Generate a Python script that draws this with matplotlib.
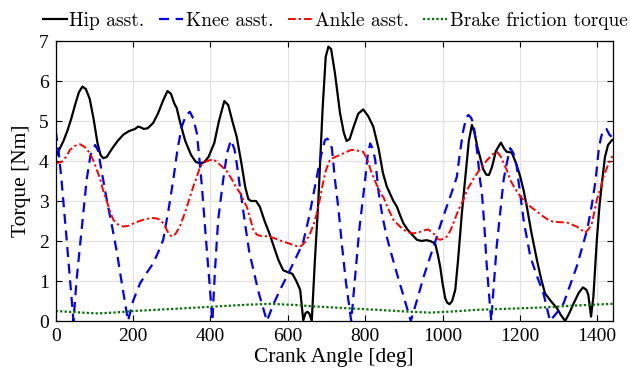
import matplotlib
matplotlib.use("Agg")
import matplotlib.pyplot as plt

plt.rcParams["font.family"] = ["Liberation Serif", "DejaVu Serif"]
plt.rcParams["mathtext.fontset"] = "stix"

# Hip assistance torque vs crank angle
hip_angle = [0, 10, 20, 30, 40, 50, 60, 69, 78, 88, 98, 108, 116, 123, 132, 145, 160, 175, 190,
             205, 213, 220, 228, 238, 252, 265, 278, 289, 298, 306, 313, 322, 335, 350, 362, 373,
             384, 395, 410, 422, 436, 446, 458, 468, 480, 490, 498, 505, 518, 528, 540, 554, 566,
             576, 588, 600, 612, 622, 632, 640, 646, 651, 656, 662, 670, 679, 690, 698, 705, 712,
             722, 735, 745, 752, 760, 770, 782, 795, 808, 821, 835, 846, 856, 866, 873, 882, 890,
             899, 910, 922, 934, 946, 958, 968, 981, 988, 994, 1000, 1007, 1012, 1018, 1025, 1033,
             1040, 1050, 1060, 1068, 1076, 1083, 1090, 1097, 1105, 1113, 1120, 1128, 1138, 1151,
             1160, 1166, 1179, 1190, 1201, 1210, 1218, 1230, 1244, 1255, 1265, 1280, 1296, 1306,
             1317, 1328, 1339, 1352, 1363, 1372, 1377, 1381, 1384, 1390, 1399, 1406, 1412, 1420,
             1428, 1438, 1440]
hip_torque = [4.10, 4.30, 4.50, 4.75, 5.05, 5.40, 5.72, 5.86, 5.80, 5.55, 5.05, 4.45, 4.15, 4.07,
              4.10, 4.30, 4.50, 4.66, 4.75, 4.80, 4.86, 4.84, 4.80, 4.82, 4.95, 5.20, 5.52, 5.75,
              5.68, 5.45, 5.32, 4.95, 4.50, 4.15, 3.98, 3.94, 3.97, 4.10, 4.45, 5.00, 5.50, 5.40,
              4.95, 4.60, 3.95, 3.35, 3.05, 3.00, 3.00, 2.85, 2.50, 2.15, 1.80, 1.52, 1.27, 1.22,
              1.18, 1.00, 0.78, 0.02, 0.20, 0.23, 0.18, 0.00, 1.50, 3.00, 5.30, 6.60, 6.86, 6.80,
              6.19, 5.20, 4.70, 4.50, 4.55, 4.85, 5.18, 5.29, 5.12, 4.86, 4.30, 3.70, 3.36, 3.15,
              3.00, 2.86, 2.65, 2.44, 2.28, 2.15, 2.03, 2.00, 2.02, 2.00, 1.94, 1.65, 1.36, 0.95,
              0.57, 0.46, 0.42, 0.50, 0.78, 1.50, 2.69, 3.70, 4.50, 4.90, 4.70, 4.35, 4.10, 3.80,
              3.66, 3.65, 3.85, 4.25, 4.46, 4.30, 4.23, 4.21, 3.95, 3.61, 3.25, 2.86, 2.20, 1.53,
              1.05, 0.69, 0.50, 0.32, 0.15, 0.00, 0.20, 0.44, 0.70, 0.84, 0.78, 0.65, 0.35, 0.11,
              0.60, 2.03, 2.90, 3.44, 4.10, 4.40, 4.52, 4.53]

# Knee assistance torque vs crank angle
knee_angle = [0, 8, 15, 26, 37, 46, 54, 63, 71, 80, 90, 102, 110, 115, 125, 132, 145, 158, 170,
              187, 200, 218, 235, 252, 265, 278, 292, 304, 315, 326, 337, 347, 356, 365, 372, 378,
              384, 390, 398, 405, 412, 420, 433, 443, 453, 462, 468, 477, 490, 500, 511, 525, 546,
              562, 580, 597, 614, 628, 640, 655, 665, 675, 685, 696, 702, 708, 714, 722, 731, 740,
              750, 764, 775, 785, 800, 806, 813, 820, 826, 835, 845, 856, 870, 882, 900, 918, 935,
              951, 968, 985, 998, 1011, 1025, 1037, 1045, 1054, 1062, 1067, 1074, 1080, 1090, 1097,
              1102, 1108, 1114, 1120, 1126, 1133, 1140, 1150, 1158, 1166, 1175, 1183, 1192, 1196,
              1210, 1227, 1245, 1261, 1278, 1295, 1313, 1330, 1347, 1360, 1374, 1386, 1396, 1404,
              1410, 1416, 1424, 1432, 1438, 1440]
knee_torque = [4.75, 4.20, 3.53, 2.30, 1.03, 0.00, 1.03, 1.90, 2.69, 3.53, 4.15, 4.40, 4.25, 3.95,
               3.40, 3.03, 2.40, 1.73, 1.00, 0.00, 0.50, 0.94, 1.20, 1.44, 1.72, 2.03, 2.80, 3.53,
               4.30, 4.86, 5.15, 5.23, 5.05, 4.69, 4.00, 3.36, 2.60, 1.86, 0.90, 0.00, 1.30, 2.53,
               3.53, 4.20, 4.52, 4.30, 3.94, 3.30, 2.40, 1.75, 1.28, 0.70, 0.00, 0.40, 0.78, 1.10,
               1.44, 1.72, 1.98, 2.60, 3.10, 3.60, 4.10, 4.52, 4.56, 4.50, 4.32, 3.53, 2.80, 1.90,
               1.00, 0.00, 1.20, 2.30, 3.53, 4.10, 4.44, 4.30, 4.03, 3.20, 2.60, 2.10, 1.60, 1.19,
               0.60, 0.00, 0.55, 1.10, 1.60, 2.10, 2.50, 2.86, 3.25, 3.60, 4.20, 4.78, 5.10, 5.15,
               5.08, 4.94, 4.20, 3.53, 3.19, 2.40, 1.44, 0.70, 0.00, 0.95, 1.86, 2.80, 3.53, 3.94,
               4.32, 4.20, 3.86, 3.53, 2.50, 1.61, 1.10, 0.69, 0.00, 0.20, 0.44, 0.90, 1.36, 1.80,
               2.28, 2.90, 3.53, 4.30, 4.60, 4.78, 4.80, 4.65, 4.60, 4.65]

# Ankle assistance torque vs crank angle
ankle_angle = [0, 16, 28, 37, 50, 63, 75, 89, 100, 115, 123, 132, 140, 149, 160, 175, 188, 201,
               214, 227, 248, 262, 270, 280, 287, 293, 300, 310, 321, 334, 347, 357, 365, 373, 385,
               398, 408, 420, 432, 442, 455, 466, 477, 486, 494, 503, 511, 520, 528, 540, 554, 570,
               589, 600, 614, 624, 632, 640, 650, 658, 668, 675, 682, 690, 698, 709, 722, 735, 750,
               765, 780, 795, 805, 812, 817, 830, 843, 847, 860, 873, 886, 899, 912, 925, 940, 950,
               963, 972, 981, 988, 994, 1003, 1011, 1020, 1028, 1040, 1054, 1065, 1080, 1097, 1115,
               1132, 1142, 1150, 1160, 1166, 1175, 1185, 1195, 1209, 1218, 1227, 1245, 1261, 1275,
               1287, 1305, 1322, 1335, 1347, 1360, 1369, 1378, 1386, 1392, 1399, 1408, 1416, 1428,
               1438, 1440]
ankle_torque = [3.94, 3.98, 4.12, 4.28, 4.38, 4.42, 4.35, 4.19, 3.95, 3.55, 3.25, 3.00, 2.75, 2.53,
                2.42, 2.36, 2.38, 2.44, 2.49, 2.53, 2.58, 2.56, 2.53, 2.42, 2.28, 2.17, 2.11, 2.18,
                2.36, 2.70, 3.10, 3.40, 3.60, 3.86, 3.97, 4.02, 4.04, 3.95, 3.84, 3.75, 3.55, 3.35,
                3.20, 3.00, 2.86, 2.55, 2.28, 2.16, 2.13, 2.12, 2.11, 2.05, 1.98, 1.95, 1.90, 1.87,
                1.86, 1.92, 2.05, 2.19, 2.45, 2.69, 3.00, 3.40, 3.75, 4.03, 4.10, 4.15, 4.22, 4.28,
                4.26, 4.23, 4.05, 3.85, 3.70, 3.40, 3.15, 3.10, 2.80, 2.53, 2.40, 2.28, 2.22, 2.19,
                2.22, 2.26, 2.29, 2.22, 2.15, 2.05, 2.03, 2.06, 2.11, 2.25, 2.44, 2.75, 3.03, 3.30,
                3.55, 3.80, 4.02, 4.19, 4.22, 4.12, 3.90, 3.78, 3.53, 3.35, 3.20, 3.03, 2.94, 2.86,
                2.73, 2.61, 2.52, 2.48, 2.47, 2.46, 2.41, 2.36, 2.27, 2.21, 2.30, 2.44, 2.70, 3.03,
                3.30, 3.60, 3.90, 4.10, 4.12]

# Brake friction torque vs crank angle
brake_angle = [0, 50, 106, 150, 201, 300, 408, 480, 554, 620, 675, 750, 830, 900, 968, 1030,
               1089, 1180, 1261, 1350, 1440]
brake_torque = [0.25, 0.22, 0.19, 0.21, 0.25, 0.30, 0.36, 0.40, 0.43, 0.40, 0.36, 0.32, 0.28,
                0.24, 0.21, 0.24, 0.28, 0.31, 0.34, 0.39, 0.43]

x_ticks = [0, 200, 400, 600, 800, 1000, 1200, 1400]
y_ticks = [0, 1, 2, 3, 4, 5, 6, 7]

W, H = 630, 373
fig = plt.figure(figsize=(W / 100, H / 100), dpi=100)
ax = fig.add_axes([55.7 / W, 1 - 321 / H, (612.7 - 55.7) / W, (321 - 41) / H])

ax.plot(hip_angle, hip_torque, color="black", lw=1.6, label="Hip asst.")
ax.plot(knee_angle, knee_torque, color="#0000ff", lw=1.6, dashes=(4.5, 3.0), label="Knee asst.")
ax.plot(ankle_angle, ankle_torque, color="#ff0000", lw=1.4, dashes=(4.0, 1.5, 1.2, 1.5),
        label="Ankle asst.")
ax.plot(brake_angle, brake_torque, color="#007000", lw=1.6, dashes=(1.0, 1.0),
        label="Brake friction torque")

ax.set_xlim(0, 1440)
ax.set_ylim(0, 7)
ax.set_xticks(x_ticks)
ax.set_yticks(y_ticks)
ax.grid(True, color="#e3e3e3", lw=0.9)
ax.set_axisbelow(True)
ax.tick_params(direction="in", top=True, right=True, labelsize=14, length=4, width=0.8,
               pad=5)
for s in ax.spines.values():
    s.set_linewidth(0.9)

ax.set_xlabel("Crank Angle [deg]", fontsize=15.5, labelpad=2)
ax.set_ylabel("Torque [Nm]", fontsize=15.5, labelpad=6)

fig.legend(loc="center left", bbox_to_anchor=(42.7 / W, 1 - 21 / H), ncol=4, frameon=False,
           prop={"family": ["cmr10", "Liberation Serif"], "size": 14},
           handlelength=1.25, handletextpad=0.12, columnspacing=0.75,
           borderaxespad=0.0, borderpad=0.0)

fig.savefig("out.png", dpi=100)
